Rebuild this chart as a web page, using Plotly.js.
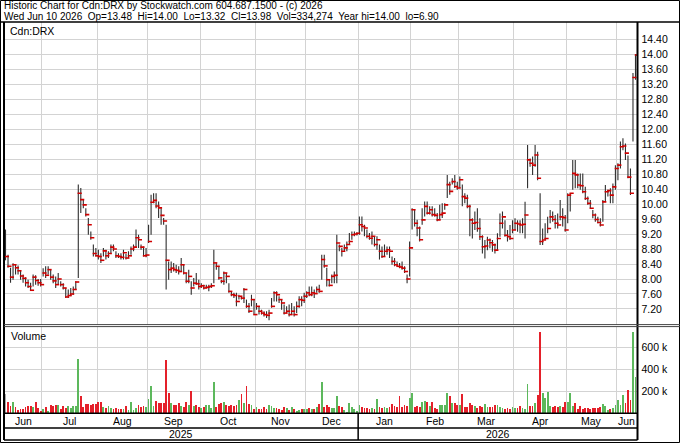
<!DOCTYPE html>
<html><head><meta charset="utf-8">
<script src="https://cdn.plot.ly/plotly-3.0.1.min.js"></script>
<style>html,body{margin:0;padding:0;background:#fff;}#chart{width:680px;height:443px;}</style>
</head><body><div id="chart"></div>
<script>
// ---- data ----
const monthNames = ['Jun','Jul','Aug','Sep','Oct','Nov','Dec','Jan','Feb','Mar','Apr','May','Jun'];
const monthSessions = [15,22,20,21,22,20,21,21,19,22,21,20,8];
const yearNames = ['2025','2026'];
const yearMonthCounts = [7,6];

const high = [
9.32,8.65,8.30,8.42,8.40,8.36,8.22,8.12,8.05,7.98,
7.90,8.12,8.10,8.00,8.00,8.29,8.34,8.34,8.25,8.12,
8.07,8.16,7.94,7.89,7.76,7.72,7.76,7.80,7.94,10.52,
10.43,10.12,9.89,9.63,9.27,8.92,8.83,8.78,8.69,8.83,
8.78,8.74,8.92,8.92,8.74,8.69,8.69,8.78,8.67,8.74,
8.87,8.92,9.32,9.18,8.92,8.87,8.83,9.45,10.25,10.29,
10.29,10.07,9.89,9.63,9.45,8.47,8.47,8.43,8.38,8.34,
8.56,8.38,8.16,8.25,7.94,8.03,8.16,7.98,7.89,7.85,
7.85,7.85,7.89,8.78,8.43,8.34,7.98,8.20,8.16,7.89,
7.67,7.63,7.63,7.58,7.54,7.76,7.45,7.36,7.58,7.45,
7.36,7.27,7.18,7.14,7.14,7.18,7.49,7.67,7.67,7.54,
7.45,7.32,7.27,7.32,7.36,7.27,7.40,7.54,7.54,7.63,
7.67,7.80,7.80,7.72,7.80,7.85,8.65,8.65,8.30,8.00,
8.12,8.20,9.18,8.92,8.83,8.92,9.00,9.23,9.27,9.27,
9.25,9.67,9.67,9.45,9.32,9.23,9.27,9.14,9.14,8.92,
8.87,8.92,8.87,8.87,8.60,8.56,8.47,8.43,8.47,8.34,
8.12,9.00,9.89,9.85,9.58,9.40,9.89,10.07,10.07,9.94,
9.94,9.89,9.76,9.98,10.02,10.02,10.78,10.60,10.69,10.78,
10.60,10.74,10.52,10.29,10.25,9.98,9.62,9.80,9.89,9.62,
9.17,9.04,9.13,9.08,9.04,8.95,9.22,9.75,9.80,9.57,
9.31,9.44,9.57,9.62,9.57,9.57,9.62,10.06,11.58,11.22,
11.27,11.58,11.40,10.29,9.35,9.49,9.66,9.84,9.80,9.71,
9.75,10.11,9.89,9.71,10.29,10.29,11.18,11.18,10.82,10.82,
10.82,10.46,10.20,10.11,9.84,9.75,9.66,9.62,10.11,10.51,
10.38,10.42,10.55,11.04,11.09,11.67,11.76,11.62,11.30,10.95,
13.50,14.00];

const low = [
8.50,8.30,7.90,7.98,8.12,8.12,7.98,7.90,7.80,7.76,
7.68,7.80,7.85,7.82,7.80,8.07,8.03,8.12,7.98,7.89,
7.76,7.85,7.80,7.72,7.49,7.49,7.54,7.58,7.72,8.03,
9.76,9.89,9.67,9.18,9.05,8.60,8.60,8.52,8.43,8.60,
8.52,8.56,8.69,8.74,8.56,8.56,8.52,8.52,8.52,8.56,
8.65,8.74,8.83,8.83,8.78,8.60,8.58,8.96,9.18,10.02,
9.89,9.63,9.45,9.45,7.72,7.98,8.16,8.20,8.16,8.12,
8.20,8.12,7.89,7.89,7.58,7.80,7.85,7.72,7.76,7.72,
7.76,7.67,7.76,7.89,8.25,7.98,7.89,7.85,7.89,7.63,
7.54,7.49,7.27,7.45,7.45,7.36,7.23,7.09,7.27,7.05,
7.18,7.05,7.05,7.00,6.96,6.90,7.23,7.40,7.40,7.36,
7.18,7.05,7.09,7.00,7.05,7.00,7.09,7.23,7.27,7.36,
7.49,7.54,7.54,7.49,7.63,7.63,7.98,8.30,7.80,7.80,
7.89,7.89,7.89,8.74,8.60,8.74,8.74,8.92,9.05,9.14,
9.16,9.18,9.27,9.14,9.09,9.05,8.92,8.87,8.78,8.52,
8.56,8.60,8.65,8.56,8.38,8.34,8.34,8.29,8.25,8.16,
7.89,8.07,9.32,9.40,9.14,9.00,9.45,9.67,9.72,9.72,
9.67,9.67,9.54,9.58,9.63,9.85,10.16,10.25,10.52,10.43,
10.38,10.43,9.94,10.02,9.89,9.14,9.08,9.31,9.26,9.04,
8.68,8.55,8.77,8.82,8.73,8.68,8.77,9.13,9.35,9.13,
9.00,9.04,9.22,9.31,9.26,9.22,9.22,9.08,10.42,11.00,
10.78,11.00,10.64,8.91,8.91,9.04,9.22,9.49,9.53,9.35,
9.35,9.57,9.40,9.26,9.49,9.80,10.38,10.42,10.42,10.38,
10.29,10.11,9.98,9.89,9.62,9.53,9.49,9.40,9.53,10.06,
10.20,10.02,10.02,10.38,10.64,10.95,11.44,11.18,10.69,10.24,
11.67,13.32];

const close = [
8.60,8.34,8.05,8.38,8.30,8.22,8.08,8.02,7.90,7.80,
7.70,8.05,7.96,7.90,7.85,8.16,8.10,8.25,8.05,7.95,
7.85,8.00,7.85,7.76,7.52,7.56,7.60,7.72,7.92,10.29,
10.12,9.98,9.72,9.45,9.10,8.68,8.62,8.60,8.50,8.75,
8.62,8.68,8.85,8.80,8.62,8.60,8.58,8.70,8.56,8.62,
8.80,8.85,9.10,9.05,8.85,8.62,8.64,9.00,10.05,10.10,
9.95,9.90,9.70,9.55,8.50,8.25,8.29,8.25,8.23,8.20,
8.38,8.16,7.94,8.07,7.76,7.89,7.87,7.80,7.82,7.76,
7.78,7.80,7.82,8.43,8.34,8.03,7.94,8.16,8.07,7.67,
7.58,7.56,7.40,7.54,7.49,7.72,7.27,7.14,7.45,7.05,
7.27,7.14,7.09,7.05,7.03,7.09,7.27,7.63,7.58,7.45,
7.36,7.09,7.14,7.05,7.14,7.05,7.27,7.45,7.43,7.54,
7.63,7.58,7.63,7.61,7.72,7.67,8.52,8.35,7.98,7.83,
8.07,8.10,8.96,8.87,8.74,8.83,8.92,9.00,9.18,9.20,
9.22,9.45,9.40,9.36,9.14,9.09,9.14,8.92,9.05,8.74,
8.60,8.74,8.78,8.74,8.47,8.38,8.34,8.32,8.29,8.20,
8.00,8.83,9.85,9.49,9.36,9.05,9.58,9.94,9.76,9.85,
9.72,9.70,9.58,9.72,9.76,9.98,10.52,10.34,10.60,10.47,
10.43,10.65,10.20,10.16,9.94,9.58,9.49,9.51,9.35,9.13,
8.86,8.88,9.04,8.97,8.91,8.77,9.08,9.49,9.66,9.17,
9.13,9.08,9.31,9.49,9.47,9.44,9.46,9.71,11.18,11.09,
11.04,11.31,10.69,9.00,9.04,9.08,9.35,9.66,9.59,9.49,
9.44,9.66,9.64,9.31,10.24,10.29,10.82,10.78,10.51,10.49,
10.33,10.15,10.02,9.89,9.71,9.59,9.51,9.44,10.06,10.33,
10.36,10.24,10.46,10.95,11.04,11.53,11.55,11.36,10.72,10.29,
13.38,13.98];

// volume in thousands of shares
const volume = [
171,104,67,95,49,24,31,37,55,67,
67,55,104,43,21,31,55,21,70,67,
70,70,37,61,43,64,43,64,67,496,
153,52,83,83,73,80,80,104,98,49,
43,64,43,37,43,37,31,37,61,24,
95,28,43,73,55,61,55,129,248,67,
113,89,92,92,487,181,86,73,73,86,
64,55,98,73,202,67,73,49,43,49,
73,73,43,282,58,80,92,98,73,67,
73,61,73,116,174,86,248,80,73,37,
55,37,37,58,37,73,67,43,43,31,
24,49,43,24,58,31,21,24,31,31,
31,43,31,37,55,83,282,55,73,55,
43,43,159,61,49,24,10,89,49,31,
20,73,49,43,43,37,43,37,129,52,
43,55,43,55,83,67,55,159,49,73,
67,141,181,49,61,49,104,110,104,61,
104,43,37,73,73,73,181,159,86,92,
73,73,174,55,58,89,73,64,43,64,
52,80,55,55,58,73,73,55,43,31,
43,31,55,43,43,61,43,31,266,67,
67,86,165,747,181,141,196,67,55,67,
55,64,49,104,104,181,67,86,31,67,
37,43,43,37,43,43,43,49,80,61,
28,31,43,73,116,73,165,92,208,116,
747,334.274];

const priceTickValues = [7.2,7.6,8.0,8.4,8.8,9.2,9.6,10.0,10.4,10.8,11.2,11.6,12.0,12.4,12.8,13.2,13.6,14.0,14.4];
const priceTickLabels = ['7.20','7.60','8.00','8.40','8.80','9.20','9.60','10.00','10.40','10.80','11.20','11.60','12.00','12.40','12.80','13.20','13.60','14.00','14.40'];
const volTickValues = [200,400,600];
const volTickLabels = ['200 k','400 k','600 k'];

const headerLine1 = 'Historic Chart for Cdn:DRX by Stockwatch.com 604.687.1500 - (c) 2026';
const headerLine2 = 'Wed Jun 10 2026  Op=13.48  Hi=14.00  Lo=13.32  Cl=13.98  Vol=334,274  Year hi=14.00  lo=6.90';
const symbolLabel = 'Cdn:DRX';
const volumeLabel = 'Volume';

// ---- styling ----
const W = 680, H = 443;
const FONT = 'Liberation Sans, Arial, sans-serif';
const GRID = '#d3d3d3';
const BAR = '#2e2e2e';
const TICK_RED = '#d00000';
const UP = '#5cb85c', DOWN = '#e4202a', FLAT = '#a8a8a8';
const PX = x => x / W;
const PY = y => 1 - y / H;

const n = close.length;
const idx = close.map((_, i) => i);
const hlX = [], hlY = [];
for (let i = 0; i < n; i++) { hlX.push(i, i, null); hlY.push(low[i], high[i], null); }
const volColors = close.map((c, i) => i === 0 ? FLAT : (c > close[i-1] ? UP : (c < close[i-1] ? DOWN : FLAT)));

// month boundaries
const starts = []; let acc = 0;
monthSessions.forEach(s => { starts.push(acc); acc += s; });
const gridVals = starts.slice(1).map(s => s - 0.5);
const labelVals = starts.map((s, k) => s + (monthSessions[k] - 1) / 2);
const xRange = [-0.6, n - 1 + 0.8];
const yearSplit = starts[yearMonthCounts[0]] - 0.5;
const yearCenters = [(xRange[0] + yearSplit) / 2, (yearSplit + xRange[1]) / 2];

const left = 4, right = 637.5;
const priceTop = 22.3, priceBot = 325, volTop = 327, volBot = 413.3;

const traces = [
  { type:'scatter', mode:'lines', x:hlX, y:hlY, xaxis:'x', yaxis:'y',
    line:{color:BAR, width:1.1}, hoverinfo:'skip', connectgaps:false },
  { type:'scatter', mode:'markers', x:idx.map(i => i + 0.55), y:close, xaxis:'x', yaxis:'y',
    marker:{symbol:'line-ew', size:3, line:{width:1.6, color:TICK_RED}}, hoverinfo:'skip' },
  { type:'bar', x:idx, y:volume, xaxis:'x2', yaxis:'y2', width:0.72,
    marker:{color:volColors, line:{width:0}}, hoverinfo:'skip' }
];

const axBase = {
  range:xRange, tickmode:'array', tickvals:gridVals, showticklabels:false, ticks:'',
  showgrid:true, gridcolor:GRID, gridwidth:1, zeroline:false, showline:false, fixedrange:true
};

const hline = (y, x0, x1, w, c) => ({type:'line', xref:'paper', yref:'paper', x0:PX(x0), x1:PX(x1), y0:PY(y), y1:PY(y), line:{color:c||'#000', width:w||1}});
const vline = (x, y0, y1, w, c) => ({type:'line', xref:'paper', yref:'paper', x0:PX(x), x1:PX(x), y0:PY(y0), y1:PY(y1), line:{color:c||'#000', width:w||1}});

const textFont = {family:FONT, size:10.5, color:'#000'};

const layout = {
  width:W, height:H, margin:{l:0, r:0, t:0, b:0},
  paper_bgcolor:'#fff', plot_bgcolor:'#fff', showlegend:false, bargap:0,
  font:{family:FONT, size:10, color:'#000'},
  xaxis:Object.assign({}, axBase, {domain:[PX(left), PX(right)], anchor:'y'}),
  xaxis2:Object.assign({}, axBase, {domain:[PX(left), PX(right)], anchor:'y2'}),
  yaxis:{domain:[PY(priceBot), PY(priceTop)], range:[6.772, 14.854], side:'right', anchor:'x',
    tickmode:'array', tickvals:priceTickValues, ticktext:priceTickLabels, ticks:'', ticklabelstandoff:3,
    showgrid:true, gridcolor:GRID, zeroline:false, showline:false, fixedrange:true, tickfont:textFont},
  yaxis2:{domain:[PY(volBot), PY(volTop)], range:[-4.6, 790.8], side:'right', anchor:'x2',
    tickmode:'array', tickvals:volTickValues, ticktext:volTickLabels, ticks:'', ticklabelstandoff:3,
    showgrid:true, gridcolor:GRID, zeroline:false, showline:false, fixedrange:true, tickfont:textFont},
  shapes:[
    {type:'rect', xref:'paper', yref:'paper', x0:PX(0.5), x1:PX(679.5), y0:PY(442.5), y1:PY(0.5), line:{color:'#000', width:1}},
    hline(22, 0, 680, 1.5),
    vline(left, 22, 440, 2),
    vline(right, 22, 440, 2),
    hline(324.6, left, 680, 1, '#444'),
    hline(326.6, left, 680, 1, '#444'),
    hline(volBot, left, right, 1.5),
    hline(428, left, right, 1.5),
    hline(440, left, right, 1.5),
    {type:'line', xref:'x', yref:'paper', x0:yearSplit, x1:yearSplit, y0:PY(413), y1:PY(440), line:{color:'#000', width:1.5}}
  ],
  annotations:[
    {xref:'paper', yref:'paper', x:PX(3), y:PY(5.5), xanchor:'left', yanchor:'middle', showarrow:false, borderpad:0,
     text:headerLine1, font:{family:FONT, size:10, color:'#000'}},
    {xref:'paper', yref:'paper', x:PX(3), y:PY(16), xanchor:'left', yanchor:'middle', showarrow:false, borderpad:0,
     text:headerLine2.replace(/  /g, '\u00a0\u00a0'), font:{family:FONT, size:10, color:'#000'}},
    {xref:'paper', yref:'paper', x:PX(8), y:PY(31), xanchor:'left', yanchor:'middle', showarrow:false,
     text:symbolLabel, font:textFont},
    {xref:'paper', yref:'paper', x:PX(9), y:PY(336), xanchor:'left', yanchor:'middle', showarrow:false,
     text:volumeLabel, font:textFont},
    ...monthNames.map((t, k) => ({xref:'x2', yref:'paper', x:labelVals[k], y:PY(420.7), xanchor:'center', yanchor:'middle',
     showarrow:false, text:t, font:textFont})),
    ...yearNames.map((t, k) => ({xref:'x2', yref:'paper', x:yearCenters[k], y:PY(433.8), xanchor:'center', yanchor:'middle',
     showarrow:false, text:t, font:textFont}))
  ]
};

Plotly.newPlot('chart', traces, layout, {staticPlot:true, displayModeBar:false});
</script>
</body></html>
